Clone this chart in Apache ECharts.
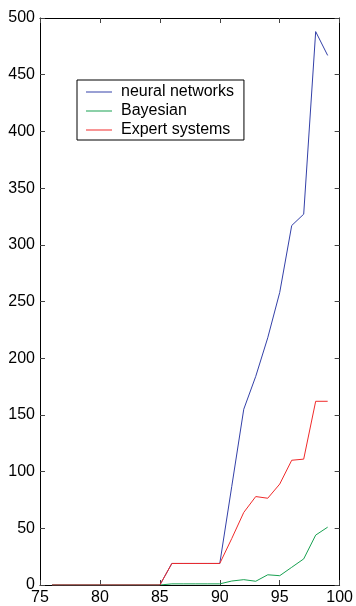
<!DOCTYPE html>
<html><head><meta charset="utf-8">
<script src="https://cdn.jsdelivr.net/npm/echarts@6/dist/echarts.min.js"></script>
<style>html,body{margin:0;padding:0;background:#fff}#c{width:356px;height:606px}</style>
</head><body><div id="c"></div>
<script>
const years = [76,77,78,79,80,81,82,83,84,85,86,87,88,89,90,91,92,93,94,95,96,97,98,99];
const neural = [0,0,0,0,0,0,0,0,0,0,19,19,19,19,19,87,155,184,218,258,317,327,488,467];
const bayesian = [0,0,0,0,0,0,0,0,0,0,1,1,1,1,1,3.5,4.7,3.3,9,8.2,15.6,23,44,51];
const expert = [0,0,0,0,0,0,0,0,0,0,19,19,19,19,19,41,64,78,76.5,89,110,111,162,162];
const xTicks = [75,80,85,90,95,100];
const yTicks = [0,50,100,150,200,250,300,350,400,450,500];

const pair = arr => years.map((y,i)=>[y,arr[i]]);
const font = 'Liberation Sans, Arial, Helvetica, sans-serif';
const chart = echarts.init(document.getElementById('c'));
const axisCommon = {
  axisLine:{show:true,onZero:false,lineStyle:{color:'#000',width:1}},
  axisTick:{show:true,inside:true,length:5,lineStyle:{color:'#444',width:1}},
  splitLine:{show:false}
};
chart.setOption({
  animation:false,
  backgroundColor:'#fff',
  grid:{left:40,top:18,width:303,height:568,containLabel:false},
  legend:{
    orient:'vertical', left:77, top:80,
    backgroundColor:'#fff', borderColor:'#000', borderWidth:1,
    padding:[4,10,2,9], itemGap:3, itemWidth:26, itemHeight:1, icon:'rect',
    textStyle:{fontFamily:font,fontSize:16,color:'#000',lineHeight:16,padding:[0,0,0,4]},
    data:['neural networks','Bayesian','Expert systems']
  },
  xAxis:[
    Object.assign({type:'value',min:xTicks[0],max:xTicks[xTicks.length-1],interval:5,position:'bottom',
      axisLabel:{fontFamily:font,fontSize:16,color:'#000',margin:5}},axisCommon),
    Object.assign({type:'value',min:xTicks[0],max:xTicks[xTicks.length-1],interval:5,position:'top',
      axisLabel:{show:false}},axisCommon)
  ],
  yAxis:[
    Object.assign({type:'value',min:yTicks[0],max:yTicks[yTicks.length-1],interval:50,position:'left',
      axisLabel:{fontFamily:font,fontSize:16,color:'#000',margin:5}},axisCommon),
    Object.assign({type:'value',min:yTicks[0],max:yTicks[yTicks.length-1],interval:50,position:'right',
      axisLabel:{show:false}},axisCommon)
  ],
  series:[
    {name:'neural networks',type:'line',symbol:'none',data:pair(neural),lineStyle:{color:'#3340a8',width:1},itemStyle:{color:'#3340a8'}},
    {name:'Bayesian',type:'line',symbol:'none',data:pair(bayesian),lineStyle:{color:'#17a050',width:1},itemStyle:{color:'#17a050'}},
    {name:'Expert systems',type:'line',symbol:'none',data:pair(expert),lineStyle:{color:'#f02a2a',width:1},itemStyle:{color:'#f02a2a'}}
  ]
});
</script></body></html>
